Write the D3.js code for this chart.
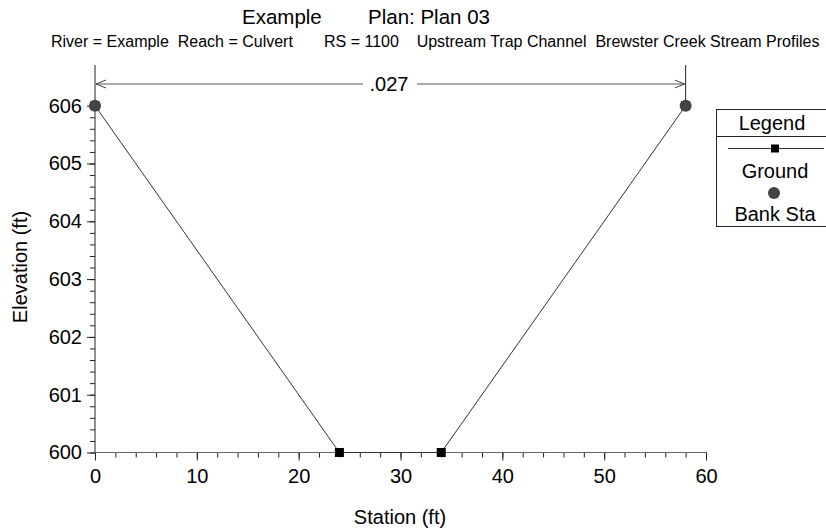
<!DOCTYPE html>
<html>
<head>
<meta charset="utf-8">
<script src="https://cdn.jsdelivr.net/npm/d3@7"></script>
<style>
  body { margin: 0; background: #fff; }
  text { font-family: "Liberation Sans", Arial, sans-serif; }
</style>
</head>
<body>
<div id="chart"></div>
<script>
// cross section data
const stations = [0, 24, 34, 58];
const elevations = [606, 600, 600, 606];
const bankStations = [0, 58];
const bankElevations = [606, 606];
const nValues = ['.027'];
const nBreaks = [0, 58];

const xTicks = [0, 10, 20, 30, 40, 50, 60];
const yTicks = [600, 601, 602, 603, 604, 605, 606];

const width = 826;
const height = 531;
const margins = { top: 65, left: 95, right: 120, bottom: 78 };
const fontSize = '20px';

const svg = d3.select('#chart').append('svg')
    .attr('width', width)
    .attr('height', height);

const xScale = d3.scaleLinear()
    .domain([0, 60])
    .range([95, 706]);

const yScale = d3.scaleLinear()
    .domain([600, 606])
    .range([452.5, 105.7]);

// titles
svg.append('text')
    .attr('x', 242)
    .attr('y', 24)
    .style('font-size', '20.5px')
    .text('Example');

svg.append('text')
    .attr('x', 368)
    .attr('y', 24)
    .style('font-size', '20.5px')
    .text('Plan: Plan 03');

svg.append('text')
    .attr('x', 51)
    .attr('y', 47)
    .style('font-size', '16px')
    .attr('xml:space', 'preserve')
    .text('River = Example  Reach = Culvert       RS = 1100    Upstream Trap Channel  Brewster Creek Stream Profiles');

// axes
const axisColor = '#666';

const xMinor = svg.append('g')
    .attr('transform', `translate(0, ${yScale(600)})`)
    .call(d3.axisBottom(xScale).tickValues(d3.range(0, 61, 2)).tickSize(5).tickFormat(''));

const xAxis = svg.append('g')
    .attr('transform', `translate(0, ${yScale(600)})`)
    .call(d3.axisBottom(xScale).tickValues(xTicks).tickSize(8).tickPadding(8).tickFormat(d3.format('d')));

const yMinor = svg.append('g')
    .attr('transform', `translate(${xScale(0)}, 0)`)
    .call(d3.axisLeft(yScale).tickValues(d3.range(600, 606.01, 0.2)).tickSize(5).tickFormat(''));

const yAxis = svg.append('g')
    .attr('transform', `translate(${xScale(0)}, 0)`)
    .call(d3.axisLeft(yScale).tickValues(yTicks).tickSize(8).tickPadding(5).tickFormat(d3.format('d')));

[xMinor, xAxis, yMinor, yAxis].forEach(g => {
    g.selectAll('.domain').remove();
    g.selectAll('line').attr('stroke', '#222');
    g.selectAll('text')
        .style('font-size', fontSize)
        .style('font-family', '"Liberation Sans", Arial, sans-serif')
        .attr('fill', '#000');
});

// axis lines
svg.append('line')
    .attr('x1', xScale(0)).attr('x2', xScale(60))
    .attr('y1', yScale(600)).attr('y2', yScale(600))
    .attr('stroke', axisColor);

svg.append('line')
    .attr('x1', xScale(0)).attr('x2', xScale(0))
    .attr('y1', yScale(600)).attr('y2', margins.top)
    .attr('stroke', '#222');

// axis labels
svg.append('text')
    .attr('x', 400)
    .attr('y', 524)
    .attr('text-anchor', 'middle')
    .style('font-size', fontSize)
    .text('Station (ft)');

svg.append('text')
    .attr('transform', 'translate(27, 267)rotate(-90)')
    .attr('text-anchor', 'middle')
    .style('font-size', fontSize)
    .text('Elevation (ft)');

// manning's n bracket
const nY = 84;
svg.append('line')
    .attr('x1', xScale(nBreaks[1])).attr('x2', xScale(nBreaks[1]))
    .attr('y1', margins.top).attr('y2', yScale(606))
    .attr('stroke', '#222');

const defs = svg.append('defs');
['start', 'end'].forEach(k => {
    defs.append('marker')
        .attr('id', 'arrow-' + k)
        .attr('viewBox', '0 0 10 10')
        .attr('refX', k === 'end' ? 10 : 0)
        .attr('refY', 5)
        .attr('markerWidth', 10)
        .attr('markerHeight', 10)
        .attr('markerUnits', 'userSpaceOnUse')
        .attr('orient', 'auto')
        .append('path')
        .attr('d', k === 'end' ? 'M0,1 L10,5 L0,9' : 'M10,1 L0,5 L10,9')
        .attr('fill', 'none')
        .attr('stroke', '#444');
});

const nMid = 389;
svg.append('line')
    .attr('x1', xScale(nBreaks[0]) + 1).attr('x2', nMid - 26)
    .attr('y1', nY).attr('y2', nY)
    .attr('stroke', '#555')
    .attr('marker-start', 'url(#arrow-start)');

svg.append('line')
    .attr('x1', nMid + 28).attr('x2', xScale(nBreaks[1]) - 1)
    .attr('y1', nY).attr('y2', nY)
    .attr('stroke', '#555')
    .attr('marker-end', 'url(#arrow-end)');

svg.append('text')
    .attr('x', nMid)
    .attr('y', nY + 7)
    .attr('text-anchor', 'middle')
    .style('font-size', fontSize)
    .text(nValues[0]);

// ground line
const ground = stations.map((s, i) => ({ x: s, y: elevations[i] }));

svg.append('path')
    .datum(ground)
    .attr('d', d3.line().x(d => xScale(d.x)).y(d => yScale(d.y)))
    .attr('fill', 'none')
    .attr('stroke', '#333')
    .attr('stroke-width', 1);

svg.selectAll('rect.gpt')
    .data(ground)
    .enter()
    .append('rect')
    .attr('class', 'gpt')
    .attr('x', d => xScale(d.x) - 4.5)
    .attr('y', d => yScale(d.y) - 4.5)
    .attr('width', 9)
    .attr('height', 9)
    .attr('fill', '#000');

svg.selectAll('circle.bank')
    .data(bankStations)
    .enter()
    .append('circle')
    .attr('class', 'bank')
    .attr('cx', d => xScale(d))
    .attr('cy', (d, i) => yScale(bankElevations[i]))
    .attr('r', 6)
    .attr('fill', '#444');

// legend
const legend = svg.append('g');
legend.append('rect')
    .attr('x', 716.5).attr('y', 109.5)
    .attr('width', 120).attr('height', 117)
    .attr('fill', '#fff')
    .attr('stroke', '#222');
legend.append('line')
    .attr('x1', 716).attr('x2', 826)
    .attr('y1', 136.5).attr('y2', 136.5)
    .attr('stroke', '#222');
legend.append('text')
    .attr('x', 772).attr('y', 130)
    .attr('text-anchor', 'middle')
    .style('font-size', fontSize)
    .text('Legend');
legend.append('line')
    .attr('x1', 728).attr('x2', 824)
    .attr('y1', 148.5).attr('y2', 148.5)
    .attr('stroke', '#333');
legend.append('rect')
    .attr('x', 771).attr('y', 144.5)
    .attr('width', 8).attr('height', 8)
    .attr('fill', '#000');
legend.append('text')
    .attr('x', 775).attr('y', 178)
    .attr('text-anchor', 'middle')
    .style('font-size', fontSize)
    .text('Ground');
legend.append('circle')
    .attr('cx', 774).attr('cy', 193)
    .attr('r', 6)
    .attr('fill', '#444');
legend.append('text')
    .attr('x', 775).attr('y', 221)
    .attr('text-anchor', 'middle')
    .style('font-size', fontSize)
    .text('Bank Sta');
</script>
</body>
</html>
